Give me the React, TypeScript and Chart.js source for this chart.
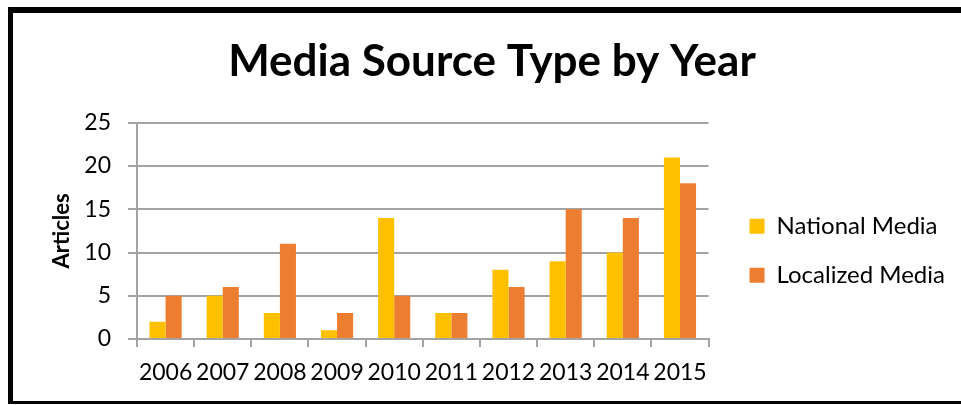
import React, { useEffect, useRef } from "react";
import { Chart, registerables } from "chart.js";

Chart.register(...registerables);

const years: string[] = ["2006", "2007", "2008", "2009", "2010", "2011", "2012", "2013", "2014", "2015"];
const nationalMedia: number[] = [2, 5, 3, 1, 14, 3, 8, 9, 10, 21];
const localizedMedia: number[] = [5, 6, 11, 3, 5, 3, 6, 15, 14, 18];
const yTicks: number[] = [0, 5, 10, 15, 20, 25];

const FONT = "Lato, 'Open Sans', sans-serif";
const GRID = "#a3a3a3";

export default function App() {
  const ref = useRef<HTMLCanvasElement | null>(null);

  useEffect(() => {
    if (!ref.current) return;
    const chart = new Chart(ref.current, {
      type: "bar",
      data: {
        labels: years,
        datasets: [
          {
            label: "National Media",
            data: nationalMedia,
            backgroundColor: "#FFC000",
            borderWidth: 0,
            categoryPercentage: 0.5624,
            barPercentage: 1.0,
          },
          {
            label: "Localized Media",
            data: localizedMedia,
            backgroundColor: "#ED7D31",
            borderWidth: 0,
            categoryPercentage: 0.5624,
            barPercentage: 1.0,
          },
        ],
      },
      options: {
        responsive: false,
        animation: false,
        devicePixelRatio: 1,
        layout: { padding: { left: 29, top: 13, bottom: 4, right: 6 } },
        plugins: {
          title: {
            display: true,
            text: "Media Source Type by Year",
            color: "#000",
            font: { family: FONT, size: 44, weight: "bold" },
            padding: { top: 22, bottom: 35 },
          },
          legend: {
            display: true,
            position: "right",
            maxWidth: 400,
            title: { display: true, text: "", font: { family: FONT, size: 32 }, padding: { top: 0, bottom: 49 } },
            labels: {
              boxWidth: 15,
              boxHeight: 15,
              padding: 25,
              color: "#000",
              font: { family: FONT, size: 24 },
            },
          },
          tooltip: { enabled: false },
        },
        scales: {
          x: {
            grid: {
              display: true,
              drawOnChartArea: false,
              drawTicks: true,
              tickLength: 8,
              color: GRID,
              lineWidth: 2,
            },
            border: { display: true, color: GRID, width: 2 },
            ticks: {
              color: "#000",
              font: { family: FONT, size: 23 },
              padding: 12,
              autoSkip: false,
              maxRotation: 0,
              minRotation: 0,
            },
            afterFit: (s: any) => {
              s.height = 62;
            },
          },
          y: {
            min: 0,
            max: 25,
            afterBuildTicks: (s: any) => {
              s.ticks = yTicks.map((v) => ({ value: v }));
            },
            grid: { color: GRID, lineWidth: 2, tickLength: 9, drawTicks: true },
            border: { display: true, color: GRID, width: 2 },
            ticks: {
              color: "#000",
              font: { family: FONT, size: 23 },
              padding: 17,
            },
            title: {
              display: true,
              text: "Articles",
              color: "#000",
              font: { family: FONT, size: 22, weight: "bold" },
              padding: { top: 20, bottom: 0 },
            },
            afterFit: (s: any) => {
              s.width = 108;
            },
          },
          yR: {
            type: "linear",
            position: "right",
            display: true,
            grid: { display: false, drawTicks: false },
            border: { display: false },
            ticks: { display: false },
            afterFit: (s: any) => {
              s.width = 16;
            },
          },
        },
      },
    });
    return () => chart.destroy();
  }, []);

  return (
    <div style={{ position: "absolute", left: 0, top: 0, width: 961, height: 405, background: "#fff" }}>
      <canvas ref={ref} width={961} height={405} style={{ position: "absolute", left: 0, top: 0, width: 961, height: 405 }} />
      <div style={{ position: "absolute", left: 8, top: 7, width: 953, height: 6, background: "#000" }} />
      <div style={{ position: "absolute", left: 8, top: 7, width: 5, height: 397, background: "#000" }} />
      <div style={{ position: "absolute", left: 8, top: 401, width: 953, height: 3, background: "#000" }} />
    </div>
  );
}
